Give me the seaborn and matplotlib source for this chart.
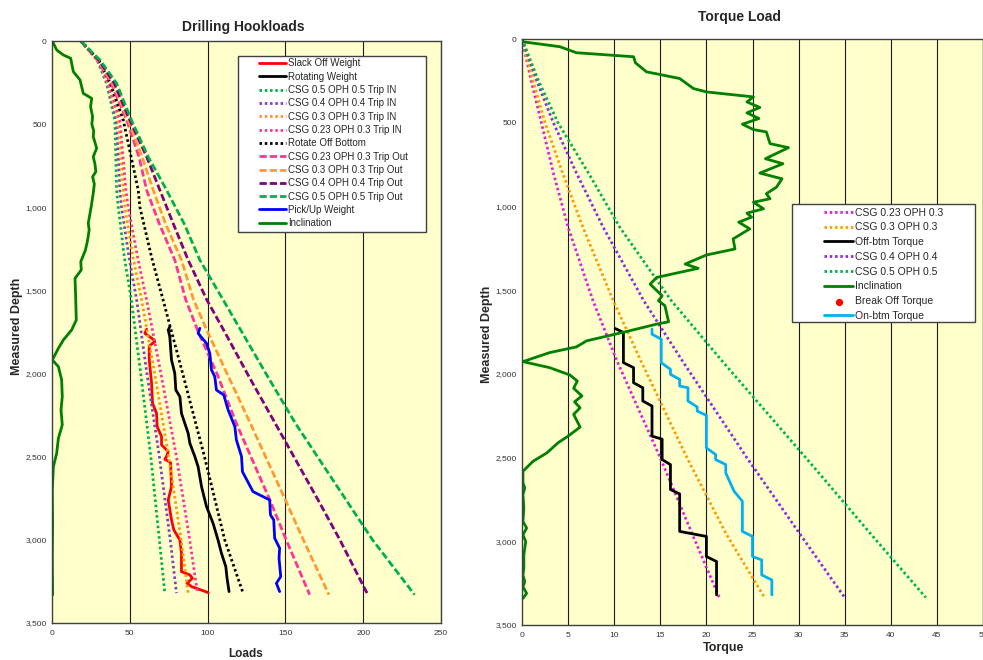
import numpy as np
import pandas as pd
import matplotlib
matplotlib.use("Agg")
import matplotlib.pyplot as plt
from matplotlib.patches import Rectangle
import seaborn as sns

sns.set_style("ticks")
plt.rcParams["font.family"] = ["Liberation Sans", "DejaVu Sans"]

W, H = 983, 660

# ---------------- Drilling hookloads (left) ----------------
slack_md = [1733, 1758, 1794, 1808, 1834, 1918, 2058, 2178, 2239, 2319, 2379, 2429, 2469, 2499, 2515,
            2535, 2680, 2760, 2880, 2940, 3001, 3080, 3191, 3211, 3231, 3261, 3281, 3317]
slack_load = [60.8, 59.7, 65.0, 66.1, 62.5, 62.5, 64.0, 64.6, 67.2, 67.6, 70.4, 70.4, 74.7, 73.6, 72.5,
              76.2, 76.8, 74.7, 76.8, 78.3, 82.2, 83.2, 83.2, 88.6, 90.3, 86.8, 89.7, 100.4]

rot_md = [1718, 1738, 1778, 1918, 1998, 2099, 2139, 2239, 2359, 2419, 2499, 2560, 2680, 2800, 2900,
          3001, 3080, 3161, 3231, 3311]
rot_load = [75.7, 74.7, 75.7, 76.8, 78.9, 79.6, 82.2, 83.2, 87.5, 88.6, 91.8, 93.9, 96.1, 99.3, 103.5,
            106.7, 108.9, 111.7, 112.5, 113.8]

pu_md = [1728, 1758, 1818, 1878, 1978, 2018, 2099, 2129, 2219, 2319, 2399, 2499, 2590, 2710, 2760,
         2850, 2880, 2990, 3050, 3110, 3221, 3261, 3311]
pu_load = [95.0, 93.9, 99.3, 101.4, 102.5, 104.6, 105.7, 110.4, 113.2, 117.5, 118.5, 121.8, 122.4, 129.2,
           139.9, 140.4, 142.5, 143.1, 146.3, 145.9, 147.0, 144.2, 146.3]

# model curves: trip in (dotted), rotate off bottom, trip out (dashed)
tin_md = [0, 114, 254, 475, 896, 1000, 1300, 1557, 2000, 2500, 3000, 3320]
tin_05 = [18.5, 29.0, 35.0, 40.4, 41.5, 42.6, 46.5, 51.0, 57.0, 63.5, 69.0, 72.5]
tin_04 = [18.5, 29.3, 35.5, 41.5, 43.6, 44.7, 49.5, 54.4, 61.0, 69.0, 76.0, 80.0]
tin_03 = [18.5, 29.6, 36.0, 42.6, 45.8, 46.8, 52.0, 57.6, 66.0, 75.0, 83.0, 87.5]
tin_023 = [18.5, 30.0, 36.5, 43.6, 47.5, 49.0, 55.0, 60.8, 70.0, 80.0, 88.5, 93.5]
rob = [18.5, 30.0, 37.5, 45.8, 55.4, 56.5, 64.0, 71.4, 84.0, 98.0, 111.0, 122.8]

tout_md = [0, 114, 254, 475, 700, 896, 1100, 1317, 1557, 1750, 2000, 2300, 2760, 3000, 3330]
tout_023 = [18.5, 29.0, 38.0, 48.0, 56.0, 60.8, 69.0, 78.9, 86.0, 94.0, 106.0, 118.5, 140.0, 150.5, 165.6]
tout_03 = [18.5, 29.5, 39.0, 49.0, 58.0, 65.0, 73.0, 83.2, 91.0, 100.0, 112.5, 127.5, 150.0, 161.5, 178.0]
tout_04 = [18.5, 30.0, 40.0, 50.0, 61.0, 69.3, 78.0, 87.5, 99.5, 111.0, 125.5, 143.5, 171.0, 185.0, 203.0]
tout_05 = [18.5, 30.8, 41.5, 51.0, 62.0, 73.6, 85.0, 95.0, 110.0, 122.0, 137.5, 156.5, 189.0, 206.0, 233.0]

incl_l_md = [0, 4, 54, 84, 104, 184, 234, 315, 345, 395, 455, 500, 540, 575, 645, 696, 740, 786, 816,
             860, 916, 996, 1096, 1136, 1197, 1257, 1327, 1377, 1427, 1537, 1678, 1738, 1798, 1848, 1918,
             1958, 2038, 2139, 2219, 2309, 2389, 2479, 2560, 2700, 2900, 3101, 3331]
incl_l = [0.0, 0.4, 3.0, 7.3, 12.0, 13.7, 18.0, 20.1, 25.5, 24.8, 26.1, 25.6, 26.8, 26.5, 28.7, 26.5, 27.6,
          28.2, 26.1, 27.2, 26.5, 25.2, 23.3, 23.9, 22.9, 21.5, 18.5, 18.8, 14.8, 15.2, 15.6, 12.6, 7.3, 4.1,
          0.2, 4.1, 6.2, 6.6, 5.8, 6.6, 4.1, 3.0, 0.9, 0.2, 0.4, 0.2, 0.4]

# ---------------- Torque load (right) ----------------
tq_md = [0, 250, 500, 800, 1124, 1563, 1923, 2502, 2961, 3336]
tq_023 = [0.0, 1.0, 2.1, 3.4, 5.0, 7.7, 10.3, 15.0, 18.5, 21.4]
tq_03 = [0.0, 1.2, 2.5, 4.4, 6.6, 9.9, 12.9, 17.9, 22.2, 26.3]
tq_04 = [0.0, 1.6, 3.4, 5.9, 8.8, 13.2, 17.4, 24.4, 30.2, 35.0]
tq_05 = [0.0, 1.8, 3.9, 7.2, 10.6, 16.2, 21.7, 30.8, 37.9, 43.8]

offbtm_md = [1729, 1753, 1933, 1963, 2053, 2083, 2162, 2192, 2372, 2390, 2512, 2542, 2691, 2717, 2941,
             2971, 3091, 3121, 3320]
offbtm_tq = [10.1, 11.0, 11.0, 12.1, 12.1, 13.1, 13.1, 14.1, 14.1, 15.2, 15.2, 16.1, 16.1, 17.1, 17.1,
             20.0, 20.0, 21.1, 21.1]

onbtm_md = [1733, 1763, 1793, 1933, 1973, 2003, 2033, 2073, 2083, 2162, 2198, 2222, 2248, 2442, 2482,
            2512, 2542, 2592, 2701, 2761, 2941, 2971, 3091, 3111, 3201, 3231, 3320]
onbtm_tq = [14.1, 14.1, 15.1, 15.1, 16.1, 16.1, 17.1, 17.1, 18.0, 18.0, 19.0, 19.0, 20.0, 20.0, 21.0,
            21.0, 22.1, 22.1, 23.0, 23.9, 23.9, 25.0, 25.0, 26.0, 26.0, 27.1, 27.1]

incl_r_md = [0, 16, 46, 82, 106, 142, 196, 236, 296, 316, 346, 376, 409, 441, 475, 509, 541, 555, 625,
             649, 715, 745, 801, 835, 885, 924, 954, 975, 1014, 1040, 1064, 1094, 1134, 1194, 1254, 1290,
             1344, 1370, 1424, 1464, 1534, 1563, 1593, 1689, 1703, 1749, 1803, 1839, 1873, 1927, 1963,
             2007, 2043, 2086, 2132, 2167, 2203, 2242, 2318, 2372, 2412, 2472, 2522, 2582, 2651, 2681,
             2721, 2801, 2881, 2921, 2961, 3001, 3081, 3161, 3201, 3241, 3271, 3311, 3341]
incl_r = [0.0, 0.0, 4.1, 5.9, 12.1, 12.3, 13.5, 17.1, 18.6, 20.0, 25.1, 24.4, 25.8, 24.4, 25.7, 23.9,
          25.1, 26.5, 26.9, 28.9, 26.4, 28.3, 25.8, 28.2, 27.6, 26.5, 26.9, 25.1, 26.2, 24.4, 24.9, 23.5,
          24.7, 22.9, 23.1, 20.0, 17.7, 19.1, 14.6, 13.9, 15.2, 14.8, 15.5, 15.9, 14.6, 11.2, 7.0, 5.9,
          3.0, 0.1, 3.0, 5.2, 6.0, 5.6, 6.5, 5.7, 6.3, 5.6, 6.3, 5.0, 3.9, 2.7, 1.2, 0.1, 0.1, 0.3, 0.1,
          0.2, 0.1, 0.5, 0.1, 0.4, 0.2, 0.2, 0.1, 0.3, 0.1, 0.5, 0.1]

# ---------------- styling ----------------
BG = "#FFFFCC"
DOT = (0, (0.9, 1.0))
DASH = (0, (2.6, 1.1))
LW = 2.0


def px_rect(x0, y0, x1, y1):
    """Figure-fraction rectangle from pixel box (top-left origin)."""
    return [x0 / W, 1 - y1 / H, (x1 - x0) / W, (y1 - y0) / H]


def line(ax, x, y, color, ls="-", label=None, lw=LW):
    df = pd.DataFrame({"x": x, "y": y})
    sns.lineplot(data=df, x="x", y="y", sort=False, estimator=None, ax=ax, color=color,
                 linestyle=ls, linewidth=lw, label=label, legend=False, dash_capstyle="butt")


def style_axes(ax, xmax, xstep):
    ax.set_facecolor(BG)
    ax.set_xlim(0, xmax)
    ax.set_ylim(3500, 0)
    ax.set_xticks(np.arange(0, xmax + 0.1, xstep))
    ax.set_yticks(np.arange(0, 3501, 500))
    ax.yaxis.set_major_formatter(plt.FuncFormatter(lambda v, _: f"{v:,.0f}"))
    ax.xaxis.set_major_formatter(plt.FuncFormatter(lambda v, _: f"{v:,.0f}"))
    for xv in np.arange(xstep, xmax + 0.1, xstep):
        ax.axvline(xv, color="#1a1a1a", lw=0.8, zorder=1)
    for s in ax.spines.values():
        s.set_color("#404040")
        s.set_linewidth(1.0)
    ax.tick_params(axis="y", length=0, labelsize=6, labelcolor="#333333", pad=4)
    ax.tick_params(axis="x", length=0, labelsize=6, labelcolor="#333333", pad=5)
    ax.set_xlabel("")
    ax.set_ylabel("")


fig = plt.figure(figsize=(W / 100, H / 100), dpi=100)
fig.patch.set_facecolor("white")

# ---- left chart ----
ax1 = fig.add_axes(px_rect(52, 41, 441, 623))
line(ax1, slack_load, slack_md, "#FF0000", label="Slack Off Weight")
line(ax1, rot_load, rot_md, "#000000", label="Rotating Weight")
line(ax1, tin_05, tin_md, "#00B050", DOT, "CSG 0.5 OPH 0.5 Trip IN")
line(ax1, tin_04, tin_md, "#8040C0", DOT, "CSG 0.4 OPH 0.4 Trip IN")
line(ax1, tin_03, tin_md, "#FF9900", DOT, "CSG 0.3 OPH 0.3 Trip IN")
line(ax1, tin_023, tin_md, "#FF3399", DOT, "CSG 0.23 OPH 0.3 Trip IN")
line(ax1, rob, tin_md, "#000000", DOT, "Rotate Off Bottom")
line(ax1, tout_023, tout_md, "#FF3399", DASH, "CSG 0.23 OPH 0.3 Trip Out")
line(ax1, tout_03, tout_md, "#FF9933", DASH, "CSG 0.3 OPH 0.3 Trip Out")
line(ax1, tout_04, tout_md, "#800080", DASH, "CSG 0.4 OPH 0.4 Trip Out")
line(ax1, tout_05, tout_md, "#00B050", DASH, "CSG 0.5 OPH 0.5 Trip Out")
line(ax1, pu_load, pu_md, "#0000FF", label="Pick/Up Weight")
line(ax1, incl_l, incl_l_md, "#008000", label="Inclination")
style_axes(ax1, 250, 50)

# ---- right chart ----
ax2 = fig.add_axes(px_rect(522, 39, 983, 625))
line(ax2, tq_023, tq_md, "#DD22DD", DOT, "CSG 0.23 OPH 0.3")
line(ax2, tq_03, tq_md, "#FF9900", DOT, "CSG 0.3 OPH 0.3")
line(ax2, offbtm_tq, offbtm_md, "#000000", label="Off-btm Torque")
line(ax2, tq_04, tq_md, "#8A2BE2", DOT, "CSG 0.4 OPH 0.4")
line(ax2, tq_05, tq_md, "#00B050", DOT, "CSG 0.5 OPH 0.5")
line(ax2, incl_r, incl_r_md, "#008000", label="Inclination")
ax2.scatter([], [], color="#FF0000", s=18, label="Break Off Torque")
line(ax2, onbtm_tq, onbtm_md, "#00B0F0", label="On-btm Torque")
style_axes(ax2, 50, 5)

# ---- legends (Excel style boxes) ----
for ax, box, anchor, fs, spacing in [(ax1, (238, 56, 426, 232), (259, 58.5), 7.0, 0.34),
                                     (ax2, (792, 204, 975, 322), (824, 207.5), 7.5, 0.46)]:
    x0, y0, x1, y1 = box
    ax.add_patch(Rectangle((x0 / W, 1 - y1 / H), (x1 - x0) / W, (y1 - y0) / H,
                           transform=fig.transFigure, facecolor="white", edgecolor="#404040",
                           lw=1.0, zorder=4, clip_on=False))
    handles, labels = ax.get_legend_handles_labels()
    leg = ax.legend(handles, labels, loc="upper left",
                    bbox_to_anchor=(anchor[0] / W, 1 - anchor[1] / H), bbox_transform=fig.transFigure,
                    frameon=False, fontsize=fs, handlelength=2.8, handletextpad=0.2,
                    borderpad=0, borderaxespad=0, labelspacing=spacing)
    leg.set_zorder(6)

# ---- titles and axis labels ----
fig.text(243 / W, 1 - 27 / H, "Drilling Hookloads", ha="center", va="center", fontsize=10, fontweight="bold")
fig.text(740 / W, 1 - 17 / H, "Torque Load", ha="center", va="center", fontsize=10, fontweight="bold")
fig.text(17 / W, 1 - 326 / H, "Measured Depth", ha="center", va="center", rotation=90,
         fontsize=9, fontweight="bold")
fig.text(487 / W, 1 - 334 / H, "Measured Depth", ha="center", va="center", rotation=90,
         fontsize=9, fontweight="bold")
fig.text(246 / W, 1 - 654 / H, "Loads", ha="center", va="center", fontsize=8.5, fontweight="bold")
fig.text(724 / W, 1 - 648 / H, "Torque", ha="center", va="center", fontsize=9, fontweight="bold")

fig.savefig("out.png", dpi=100)
